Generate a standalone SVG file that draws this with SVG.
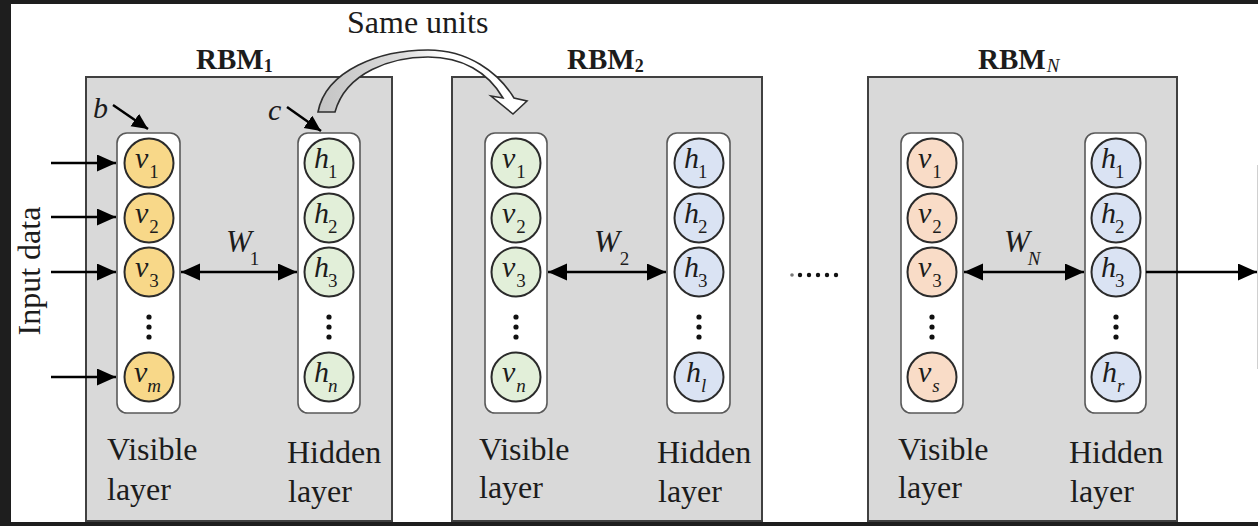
<svg xmlns="http://www.w3.org/2000/svg" width="1258" height="526" viewBox="0 0 1258 526">
<defs>
<style>
.box{fill:#d9d9d9;stroke:#404040;stroke-width:2}
.pill{fill:#fff;stroke:#595959;stroke-width:1.6}
.c{stroke:#2b2b2b;stroke-width:2}
.y{fill:#f8d889}.g{fill:#e2efd9}.b{fill:#dae3f3}.p{fill:#f9dcc7}
.t{font-family:"Liberation Serif","Times New Roman",serif;fill:#1c1c1c}
.lay{font-size:32px}
.ttl{font-size:29px;font-weight:bold}
.cl{font-size:30px;font-style:italic}
.wl{font-size:31px;font-style:italic}
.sub{font-size:19px;font-style:normal}
.si{font-size:19px;font-style:italic}
.dot{fill:#111}
.ln{stroke:#000;stroke-width:2.5;fill:none}
</style>
<marker id="ah" markerUnits="userSpaceOnUse" markerWidth="20" markerHeight="18" refX="19" refY="8.5" orient="auto-start-reverse">
<path d="M0,0 L19,8.5 L0,17 Z" fill="#000"/>
</marker>
<marker id="sh" markerUnits="userSpaceOnUse" markerWidth="18" markerHeight="16" refX="16" refY="7.5" orient="auto">
<path d="M0,0 L16,7.5 L0,15 Z" fill="#000"/>
</marker>
<linearGradient id="grad" x1="318" y1="0" x2="527" y2="0" gradientUnits="userSpaceOnUse">
<stop offset="0" stop-color="#c4c4c4"/>
<stop offset="0.4" stop-color="#dcdcdc"/>
<stop offset="0.6" stop-color="#ffffff"/>
<stop offset="1" stop-color="#ffffff"/>
</linearGradient>
</defs>

<rect x="0" y="0" width="1258" height="526" fill="#1e1e1e"/>
<rect x="11" y="4" width="1247" height="518" fill="#ffffff"/>
<line x1="1257.5" y1="165" x2="1257.5" y2="369" stroke="#d0d0d0" stroke-width="1"/>

<!-- RBM 1 -->
<g id="rbm1">
<rect class="box" x="86" y="77" width="306" height="444"/>
<text class="t ttl" x="196" y="69">RBM<tspan font-size="18" dy="3">1</tspan></text>
<text class="t cl" x="93" y="118">b</text>
<text class="t cl" x="268" y="120">c</text>
<g id="rbm1-visible">
<rect class="pill" x="117" y="133" width="63" height="280" rx="10"/>
<circle class="c y" cx="149" cy="163" r="24.5"/>
<circle class="c y" cx="149" cy="218" r="24.5"/>
<circle class="c y" cx="149" cy="272" r="24.5"/>
<circle class="c y" cx="149" cy="377" r="24.5"/>
<circle class="dot" cx="149" cy="317" r="2.6"/><circle class="dot" cx="149" cy="327" r="2.6"/><circle class="dot" cx="149" cy="337" r="2.6"/>
<text class="t cl" x="135" y="168">v<tspan class="sub" dx="1" dy="10">1</tspan></text>
<text class="t cl" x="135" y="223">v<tspan class="sub" dx="1" dy="10">2</tspan></text>
<text class="t cl" x="135" y="277">v<tspan class="sub" dx="1" dy="10">3</tspan></text>
<text class="t cl" x="134" y="382">v<tspan class="si" dx="0" dy="10">m</tspan></text>
</g>
<g id="rbm1-hidden">
<rect class="pill" x="298" y="133" width="62" height="280" rx="10"/>
<circle class="c g" cx="329" cy="163" r="24.5"/>
<circle class="c g" cx="329" cy="218" r="24.5"/>
<circle class="c g" cx="329" cy="272" r="24.5"/>
<circle class="c g" cx="329" cy="377" r="24.5"/>
<circle class="dot" cx="329" cy="317" r="2.6"/><circle class="dot" cx="329" cy="327" r="2.6"/><circle class="dot" cx="329" cy="337" r="2.6"/>
<text class="t cl" x="314" y="168">h<tspan class="sub" dx="-1" dy="10">1</tspan></text>
<text class="t cl" x="314" y="223">h<tspan class="sub" dx="-1" dy="10">2</tspan></text>
<text class="t cl" x="314" y="277">h<tspan class="sub" dx="-1" dy="10">3</tspan></text>
<text class="t cl" x="314" y="382">h<tspan class="si" dx="-1" dy="10">n</tspan></text>
</g>
<text class="t wl" x="226" y="252">W<tspan class="sub" dx="-2" dy="13">1</tspan></text>
<text class="t lay" x="107" y="460">Visible</text>
<text class="t lay" x="107" y="500">layer</text>
<text class="t lay" x="287" y="463">Hidden</text>
<text class="t lay" x="288" y="502">layer</text>
</g>

<!-- RBM 2 -->
<g id="rbm2">
<rect class="box" x="452" y="77" width="310" height="444"/>
<text class="t ttl" x="567" y="69">RBM<tspan font-size="18" dy="3">2</tspan></text>
<g id="rbm2-visible">
<rect class="pill" x="485" y="133" width="62" height="280" rx="10"/>
<circle class="c g" cx="516" cy="163" r="24.5"/>
<circle class="c g" cx="516" cy="218" r="24.5"/>
<circle class="c g" cx="516" cy="272" r="24.5"/>
<circle class="c g" cx="516" cy="377" r="24.5"/>
<circle class="dot" cx="516" cy="317" r="2.6"/><circle class="dot" cx="516" cy="327" r="2.6"/><circle class="dot" cx="516" cy="337" r="2.6"/>
<text class="t cl" x="502" y="168">v<tspan class="sub" dx="1" dy="10">1</tspan></text>
<text class="t cl" x="502" y="223">v<tspan class="sub" dx="1" dy="10">2</tspan></text>
<text class="t cl" x="502" y="277">v<tspan class="sub" dx="1" dy="10">3</tspan></text>
<text class="t cl" x="502" y="382">v<tspan class="si" dx="1" dy="10">n</tspan></text>
</g>
<g id="rbm2-hidden">
<rect class="pill" x="667" y="133" width="63" height="280" rx="10"/>
<circle class="c b" cx="699" cy="163" r="24.5"/>
<circle class="c b" cx="699" cy="218" r="24.5"/>
<circle class="c b" cx="699" cy="272" r="24.5"/>
<circle class="c b" cx="699" cy="377" r="24.5"/>
<circle class="dot" cx="699" cy="317" r="2.6"/><circle class="dot" cx="699" cy="327" r="2.6"/><circle class="dot" cx="699" cy="337" r="2.6"/>
<text class="t cl" x="684" y="168">h<tspan class="sub" dx="-1" dy="10">1</tspan></text>
<text class="t cl" x="684" y="223">h<tspan class="sub" dx="-1" dy="10">2</tspan></text>
<text class="t cl" x="684" y="277">h<tspan class="sub" dx="-1" dy="10">3</tspan></text>
<text class="t cl" x="686" y="382">h<tspan class="si" dx="0" dy="10">l</tspan></text>
</g>
<text class="t wl" x="594" y="252">W<tspan class="sub" dx="0" dy="13">2</tspan></text>
<text class="t lay" x="479" y="460">Visible</text>
<text class="t lay" x="479" y="498">layer</text>
<text class="t lay" x="657" y="463">Hidden</text>
<text class="t lay" x="658" y="502">layer</text>
</g>

<!-- dots between -->
<g id="ellipsis">
<circle cx="792" cy="275" r="1.8" fill="#777"/>
<circle cx="800" cy="275" r="2.2" fill="#111"/>
<circle cx="809" cy="275" r="2.2" fill="#111"/>
<circle cx="818" cy="275" r="2.2" fill="#111"/>
<circle cx="827" cy="275" r="2.2" fill="#111"/>
<circle cx="836" cy="275" r="2.2" fill="#111"/>
</g>

<!-- RBM N -->
<g id="rbmN">
<rect class="box" x="868" y="77" width="309" height="444"/>
<text class="t ttl" x="978" y="69">RBM<tspan class="si" font-weight="normal" dx="1" dy="3">N</tspan></text>
<g id="rbmN-visible">
<rect class="pill" x="901" y="133" width="62" height="280" rx="10"/>
<circle class="c p" cx="932" cy="163" r="24.5"/>
<circle class="c p" cx="932" cy="218" r="24.5"/>
<circle class="c p" cx="932" cy="272" r="24.5"/>
<circle class="c p" cx="932" cy="377" r="24.5"/>
<circle class="dot" cx="932" cy="317" r="2.6"/><circle class="dot" cx="932" cy="327" r="2.6"/><circle class="dot" cx="932" cy="337" r="2.6"/>
<text class="t cl" x="918" y="168">v<tspan class="sub" dx="1" dy="10">1</tspan></text>
<text class="t cl" x="918" y="223">v<tspan class="sub" dx="1" dy="10">2</tspan></text>
<text class="t cl" x="918" y="277">v<tspan class="sub" dx="1" dy="10">3</tspan></text>
<text class="t cl" x="918" y="382">v<tspan class="si" dx="1" dy="10">s</tspan></text>
</g>
<g id="rbmN-hidden">
<rect class="pill" x="1085" y="133" width="61" height="280" rx="10"/>
<circle class="c b" cx="1116" cy="163" r="24.5"/>
<circle class="c b" cx="1116" cy="218" r="24.5"/>
<circle class="c b" cx="1116" cy="272" r="24.5"/>
<circle class="c b" cx="1116" cy="377" r="24.5"/>
<circle class="dot" cx="1116" cy="317" r="2.6"/><circle class="dot" cx="1116" cy="327" r="2.6"/><circle class="dot" cx="1116" cy="337" r="2.6"/>
<text class="t cl" x="1101" y="168">h<tspan class="sub" dx="-1" dy="10">1</tspan></text>
<text class="t cl" x="1101" y="223">h<tspan class="sub" dx="-1" dy="10">2</tspan></text>
<text class="t cl" x="1101" y="277">h<tspan class="sub" dx="-1" dy="10">3</tspan></text>
<text class="t cl" x="1102" y="382">h<tspan class="si" dx="0" dy="10">r</tspan></text>
</g>
<text class="t wl" x="1004" y="252">W<tspan class="si" dx="-2" dy="13">N</tspan></text>
<text class="t lay" x="898" y="460">Visible</text>
<text class="t lay" x="898" y="498">layer</text>
<text class="t lay" x="1069" y="463">Hidden</text>
<text class="t lay" x="1070" y="502">layer</text>
</g>

<text id="input-label" class="t lay" transform="translate(40,271) rotate(-90)" text-anchor="middle">Input data</text>

<!-- connectors -->
<g id="connectors">
<line class="ln" x1="51" y1="163" x2="116" y2="163" marker-end="url(#ah)"/>
<line class="ln" x1="51" y1="217" x2="116" y2="217" marker-end="url(#ah)"/>
<line class="ln" x1="51" y1="272" x2="116" y2="272" marker-end="url(#ah)"/>
<line class="ln" x1="51" y1="377" x2="116" y2="377" marker-end="url(#ah)"/>
<line class="ln" x1="181" y1="272" x2="297" y2="272" marker-start="url(#ah)" marker-end="url(#ah)"/>
<line class="ln" x1="548" y1="272" x2="666" y2="272" marker-start="url(#ah)" marker-end="url(#ah)"/>
<line class="ln" x1="964" y1="272" x2="1084" y2="272" marker-start="url(#ah)" marker-end="url(#ah)"/>
<line class="ln" x1="1146" y1="272" x2="1257" y2="272" marker-end="url(#ah)"/>
<line class="ln" x1="113" y1="105" x2="148" y2="129" marker-end="url(#sh)"/>
<line class="ln" x1="287" y1="107" x2="321" y2="131" marker-end="url(#sh)"/>
<path id="same-units-arrow" d="M318,112 C326,70 380,50 428,50 C468,50 498,72 514,98 L527,101 L513,114 L491,96 L503,98 C488,72 462,57 428,57 C392,57 346,72 335,112 Z" fill="url(#grad)" stroke="#2e2e2e" stroke-width="1.6" stroke-linejoin="miter"/>
</g>
<text class="t lay" x="347" y="33">Same units</text>
</svg>
